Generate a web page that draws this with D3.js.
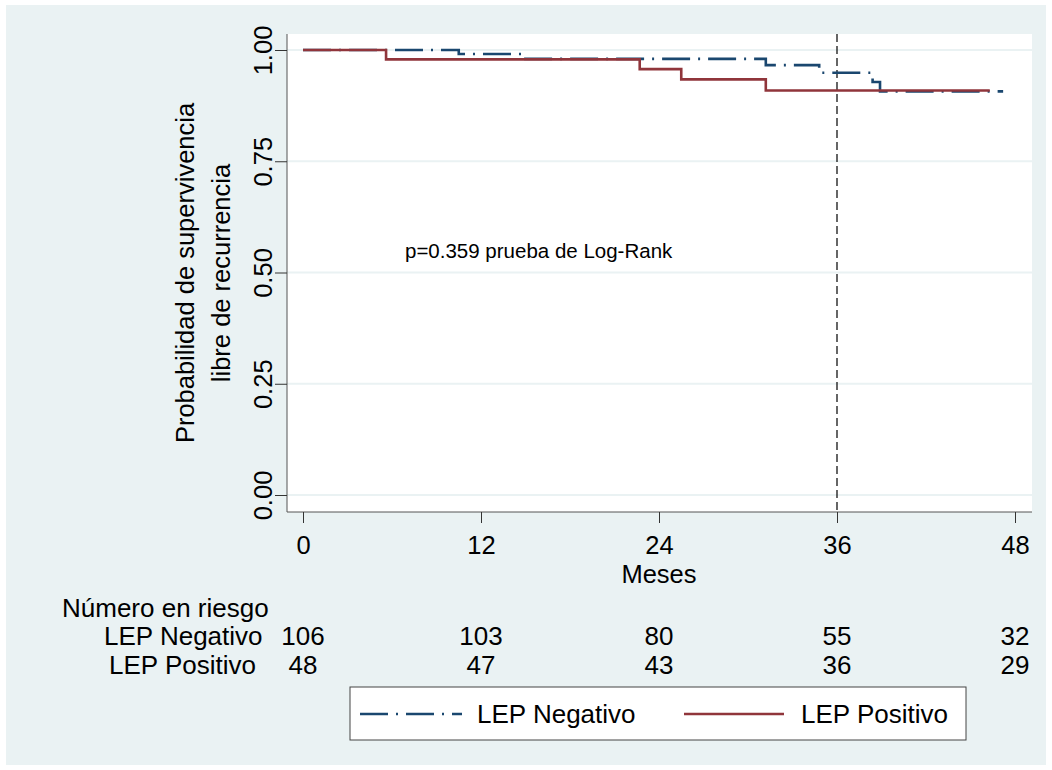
<!DOCTYPE html>
<html>
<head>
<meta charset="utf-8">
<script src="https://cdn.jsdelivr.net/npm/d3@7/dist/d3.min.js"></script>
<style>
  html, body { margin: 0; padding: 0; background: #ffffff; }
  svg { display: block; font-family: "Liberation Sans", Arial, sans-serif; }
</style>
</head>
<body>
<svg id="chart" width="1052" height="770"></svg>
<script>
// ---- data ----
const monthTicks = [0, 12, 24, 36, 48];
const survTicks = [0, 0.25, 0.5, 0.75, 1];
const survTickLabels = ["0.00", "0.25", "0.50", "0.75", "1.00"];
const groups = ["LEP Negativo", "LEP Positivo"];
const negTimes = [0, 10.5, 14.9, 31.2, 34.8, 38.4, 38.9, 47.2];
const negSurv  = [1, 0.991, 0.980, 0.966, 0.949, 0.928, 0.907, 0.907];
const posTimes = [0, 5.6, 22.7, 25.5, 31.2, 46.3];
const posSurv  = [1, 0.979, 0.957, 0.934, 0.909, 0.909];
const riskNeg = [106, 103, 80, 55, 32];
const riskPos = [48, 47, 43, 36, 29];
const refLineMonth = 36;
const pText = "p=0.359 prueba de Log-Rank";

// ---- layout ----
const svg = d3.select("#chart");
const W = 1052, H = 770;
const plot = { left: 287, right: 1032, top: 34, bottom: 512 };
const colNeg = "#1a476f", colPos = "#90353b";
const bg = "#eaf2f3";

svg.append("rect").attr("x", 0).attr("y", 0).attr("width", W).attr("height", H).attr("fill", "#fff");
svg.append("rect").attr("x", 6).attr("y", 5).attr("width", 1040).attr("height", 760).attr("fill", bg);
svg.append("rect").attr("x", plot.left).attr("y", plot.top)
  .attr("width", plot.right - plot.left).attr("height", plot.bottom - plot.top).attr("fill", "#fff");

const x = d3.scaleLinear().domain([0, 48]).range([303, 1015]);
const y = d3.scaleLinear().domain([0, 1]).range([495, 50]);

// gridlines
svg.append("g").selectAll("line").data(survTicks).join("line")
  .attr("x1", plot.left).attr("x2", plot.right)
  .attr("y1", d => y(d)).attr("y2", d => y(d))
  .attr("stroke", bg).attr("stroke-width", 2);

// y axis
const yAxis = d3.axisLeft(y).tickValues(survTicks).tickSize(12).tickPadding(4)
  .tickFormat((d, i) => survTickLabels[i]);
const gy = svg.append("g").attr("transform", `translate(${plot.left},0)`).call(yAxis);
gy.select(".domain").attr("d", `M0,${plot.top}V${plot.bottom}`).attr("stroke", "#555");
gy.selectAll(".tick line").attr("stroke", "#333");
gy.selectAll(".tick text")
  .attr("font-size", 25.5).attr("fill", "#000")
  .attr("text-anchor", "middle").attr("x", null).attr("dy", null)
  .attr("transform", "translate(-15,0) rotate(-90)");

// x axis
const xAxis = d3.axisBottom(x).tickValues(monthTicks).tickSize(11).tickPadding(0);
const gx = svg.append("g").attr("transform", `translate(0,${plot.bottom})`).call(xAxis);
gx.select(".domain").attr("d", `M${plot.left},0H${plot.right}`).attr("stroke", "#555");
gx.selectAll(".tick line").attr("stroke", "#333");
gx.selectAll(".tick text").attr("font-size", 25.5).attr("fill", "#000")
  .attr("y", 42).attr("dy", null);

// axis titles
svg.append("text").attr("x", x(24)).attr("y", 583).attr("text-anchor", "middle")
  .attr("font-size", 25.5).text("Meses");
const ytitle = svg.append("g").attr("transform", `translate(0,${(plot.top + plot.bottom) / 2})`);
ytitle.append("text").attr("transform", "translate(194,0) rotate(-90)").attr("text-anchor", "middle")
  .attr("font-size", 25.5).text("Probabilidad de supervivencia");
ytitle.append("text").attr("transform", "translate(230,0) rotate(-90)").attr("text-anchor", "middle")
  .attr("font-size", 25.5).text("libre de recurrencia");

// reference line
svg.append("line").attr("x1", x(refLineMonth)).attr("x2", x(refLineMonth))
  .attr("y1", plot.top).attr("y2", plot.bottom)
  .attr("stroke", "#000").attr("stroke-width", 1.2).attr("stroke-dasharray", "8,4");

// annotation
svg.append("text").attr("x", 405).attr("y", 258).attr("font-size", 20.5).text(pText);

// curves (negative first, positive drawn on top)
const line = d3.line().x(d => x(d[0])).y(d => y(d[1])).curve(d3.curveStepAfter);
const negPts = negTimes.map((t, i) => [t, negSurv[i]]);
const posPts = posTimes.map((t, i) => [t, posSurv[i]]);
svg.append("path").datum(negPts).attr("d", line).attr("fill", "none")
  .attr("stroke", colNeg).attr("stroke-width", 2.6).attr("stroke-dasharray", "28,8,2,8");
svg.append("path").datum(posPts).attr("d", line).attr("fill", "none")
  .attr("stroke", colPos).attr("stroke-width", 2.6);

// number at risk
svg.append("text").attr("x", 62).attr("y", 617).attr("font-size", 26).text("Número en riesgo");
const riskRows = [riskNeg, riskPos];
const rowY = [645, 674];
const rowX = [104, 109];
groups.forEach((g, gi) => {
  svg.append("text").attr("x", rowX[gi]).attr("y", rowY[gi]).attr("font-size", 26).text(g);
  svg.append("g").selectAll("text").data(riskRows[gi]).join("text")
    .attr("x", (d, i) => x(monthTicks[i])).attr("y", rowY[gi])
    .attr("text-anchor", "middle").attr("font-size", 26).text(d => d);
});

// legend
const lg = svg.append("g");
lg.append("rect").attr("x", 350).attr("y", 687).attr("width", 616).attr("height", 53)
  .attr("fill", "#fff").attr("stroke", "#444").attr("stroke-width", 1);
const legItems = [
  { label: groups[0], color: colNeg, dash: "28,8,2,8", x1: 360, x2: 462, tx: 477 },
  { label: groups[1], color: colPos, dash: null, x1: 684, x2: 784, tx: 801 }
];
legItems.forEach(it => {
  lg.append("line").attr("x1", it.x1).attr("x2", it.x2).attr("y1", 714).attr("y2", 714)
    .attr("stroke", it.color).attr("stroke-width", 2.6).attr("stroke-dasharray", it.dash);
  lg.append("text").attr("x", it.tx).attr("y", 723).attr("font-size", 26).text(it.label);
});
</script>
</body>
</html>
